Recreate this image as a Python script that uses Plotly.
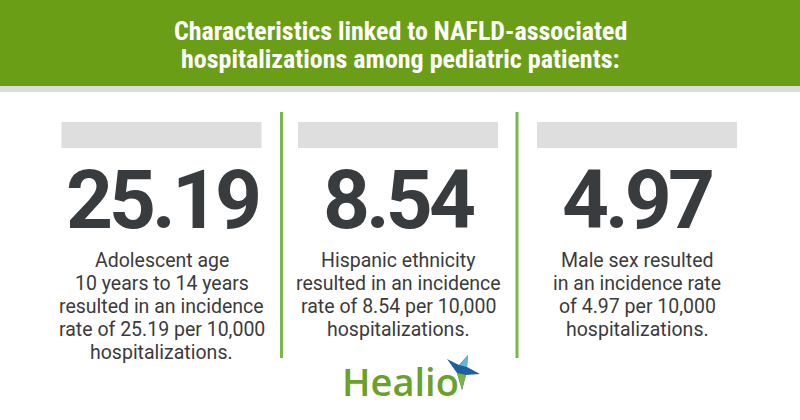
import plotly.graph_objects as go

# ---- data ----
title_lines = ["Characteristics linked to NAFLD-associated",
               "hospitalizations among pediatric patients:"]
values = [25.19, 8.54, 4.97]
descriptions = [
    ["Adolescent age", "10 years to 14 years", "resulted in an incidence",
     "rate of 25.19 per 10,000", "hospitalizations."],
    ["Hispanic ethnicity", "resulted in an incidence",
     "rate of 8.54 per 10,000", "hospitalizations."],
    ["Male sex resulted", "in an incidence rate",
     "of 4.97 per 10,000", "hospitalizations."],
]
brand = "Healio"

# ---- layout constants ----
W, H = 800, 420
col_centers = [161.5, 398, 637]
dividers = [281.5, 517]
BANNER = "#6a9e16"
DARK = "#383c3e"
TEXT = "#3b3b3b"

fig = go.Figure()
shapes = []
ann = []

# banner
shapes.append(dict(type="rect", x0=0, x1=W, y0=0, y1=86, line_width=0, fillcolor=BANNER, layer="below"))
shapes.append(dict(type="rect", x0=0, x1=W, y0=86, y1=92, line_width=0, fillcolor="#dcdcdc", layer="below"))

title_font = dict(family="Roboto Condensed, Liberation Sans Narrow, DejaVu Sans Condensed, Roboto",
                  size=26, color="white", weight=700)
for i, t in enumerate(title_lines):
    ann.append(dict(x=W / 2, y=31 + 27.5 * i, text=t, showarrow=False, xanchor="center",
                    yanchor="middle", font=title_font))

# dividers
for x in dividers:
    shapes.append(dict(type="line", x0=x, x1=x, y0=112, y1=358,
                       line=dict(color="#7ab648", width=3)))

# columns
for c, v, desc in zip(col_centers, values, descriptions):
    shapes.append(dict(type="rect", x0=c - 100, x1=c + 100, y0=122, y1=148,
                       line_width=0, fillcolor="#dedede", layer="below"))
    ann.append(dict(x=c, y=199.5, text='<span style="letter-spacing:-4px">%.2f</span>' % v,
                    showarrow=False, xanchor="center", yanchor="middle",
                    font=dict(family="Roboto", size=82, color=DARK, weight=700)))
    for j, line in enumerate(desc):
        ann.append(dict(x=c, y=260.5 + 22.9 * j, text=line, showarrow=False,
                        xanchor="center", yanchor="middle",
                        font=dict(family="Roboto", size=19.5, color=TEXT)))

# logo
ann.append(dict(x=340, y=381, text=brand, showarrow=False, xanchor="left", yanchor="middle",
                font=dict(family="Open Sans, Liberation Sans", size=38, color="#69a12a", weight=600)))
shapes.append(dict(type="path",
                   path="M 447 359 L 459 365 L 468 355 L 467 367 L 480 374 L 466 375 L 462 390 L 457 373 Z",
                   fillcolor="#1f5f9f", line_width=0))
shapes.append(dict(type="path", path="M 457 373 L 466 375 L 462 390 Z",
                   fillcolor="#7cb342", line_width=0))
shapes.append(dict(type="path", path="M 459 365 L 468 355 L 467 367 Z",
                   fillcolor="#5fb7d9", line_width=0))

fig.update_layout(
    width=W, height=H, margin=dict(l=0, r=0, t=0, b=0),
    paper_bgcolor="white", plot_bgcolor="white",
    xaxis=dict(range=[0, W], visible=False, fixedrange=True),
    yaxis=dict(range=[H, 0], visible=False, fixedrange=True),
    shapes=shapes, annotations=ann, showlegend=False,
)

fig.write_html("out.html", config={"displayModeBar": False},
               post_script="document.body.style.margin='0';document.body.style.overflow='hidden';")
